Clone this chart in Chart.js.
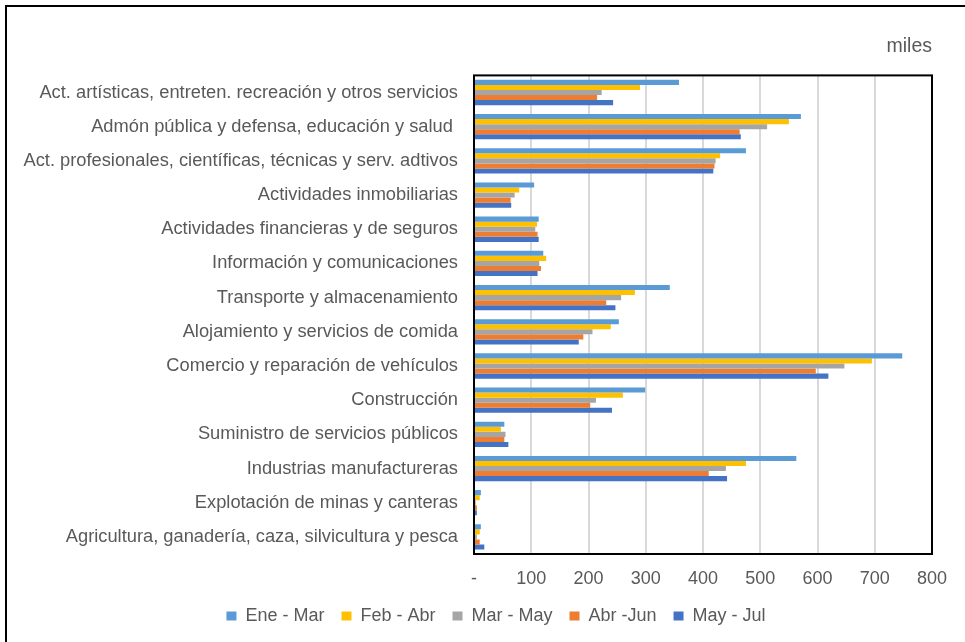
<!DOCTYPE html>
<html>
<head>
<meta charset="utf-8">
<script src="https://cdn.jsdelivr.net/npm/chart.js@4/dist/chart.umd.min.js"></script>
<style>
html,body{margin:0;padding:0;background:#fff;}
#wrap{width:965px;height:642px;position:relative;}
</style>
</head>
<body>
<div id="wrap"><canvas id="c" width="965" height="642"></canvas></div>
<script>
const categories = [
  "Act. artísticas, entreten. recreación y otros servicios",
  "Admón pública y defensa, educación y salud ",
  "Act. profesionales, científicas, técnicas y serv. adtivos",
  "Actividades inmobiliarias",
  "Actividades financieras y de seguros",
  "Información y comunicaciones",
  "Transporte y almacenamiento",
  "Alojamiento y servicios de comida",
  "Comercio y reparación de vehículos",
  "Construcción",
  "Suministro de servicios públicos",
  "Industrias manufactureras",
  "Explotación de minas y canteras",
  "Agricultura, ganadería, caza, silvicultura y pesca"
];
const seriesNames = ["Ene - Mar", "Feb - Abr", "Mar - May", "Abr -Jun", "May - Jul"];
const eneMar = [358, 571, 475, 105, 113, 121, 342, 253, 748, 299, 53, 563, 12, 12];
const febAbr = [290, 550, 430, 79, 110, 126, 281, 239, 695, 260, 47, 475, 10, 10];
const marMay = [223, 512, 422, 71, 107, 114, 257, 207, 647, 213, 55, 440, 3, 5];
const abrJun = [215, 464, 420, 64, 111, 117, 231, 191, 597, 203, 53, 410, 5, 10];
const mayJul = [243, 466, 418, 65, 113, 111, 247, 183, 619, 241, 60, 442, 5, 18];
const unitLabel = "miles";
const xMax = 800;
const xStep = 100;

const colors = ["#5B9BD5", "#FFC000", "#A5A5A5", "#ED7D31", "#4472C4"];
const values = [eneMar, febAbr, marMay, abrJun, mayJul];
const FONT = "'Liberation Sans', Arial, sans-serif";
const TXT = "#595959";

const framePlugin = {
  id: 'frame',
  afterLayout(chart) {
    const lg = chart.legend;
    if (lg) {
      lg.left += 30; lg.right += 30;
    }
  },
  beforeDraw(chart) {
    const ctx = chart.ctx;
    ctx.save();
    ctx.fillStyle = '#fff';
    ctx.fillRect(0, 0, chart.width, chart.height);
    ctx.strokeStyle = '#000';
    ctx.lineWidth = 2;
    ctx.strokeRect(6, 6, 1000, 1000);
    ctx.restore();
  },
  afterDraw(chart) {
    const a = chart.chartArea;
    const ctx = chart.ctx;
    ctx.save();
    ctx.strokeStyle = '#000';
    ctx.lineWidth = 2;
    ctx.strokeRect(a.left, a.top, a.right - a.left, a.bottom - a.top);
    ctx.restore();
  }
};

new Chart(document.getElementById('c'), {
  type: 'bar',
  data: {
    labels: categories,
    datasets: seriesNames.map((n, i) => ({
      label: n,
      data: values[i],
      backgroundColor: colors[i],
      borderWidth: 0,
      categoryPercentage: 0.74,
      barPercentage: 1.0
    }))
  },
  options: {
    indexAxis: 'y',
    responsive: false,
    animation: false,
    devicePixelRatio: 1,
    layout: { padding: { left: 0, right: 33, top: 0, bottom: 7 } },
    plugins: {
      title: {
        display: true,
        text: unitLabel,
        align: 'end',
        color: TXT,
        font: { family: FONT, size: 19.5, weight: 'normal' },
        padding: { top: 35, bottom: 17 }
      },
      legend: {
        position: 'bottom',
        labels: {
          boxWidth: 10,
          boxHeight: 9,
          color: TXT,
          padding: 17,
          font: { family: FONT, size: 18 }
        }
      },
      tooltip: { enabled: false }
    },
    scales: {
      x: {
        min: 0,
        max: xMax,
        ticks: {
          stepSize: xStep,
          color: TXT,
          padding: 14,
          font: { family: FONT, size: 18 },
          callback: v => v === 0 ? '-' : v
        },
        grid: { color: '#d9d9d9', lineWidth: 2, drawTicks: false },
        border: { display: false },
        afterFit(s) { s.height = 36; }
      },
      y: {
        ticks: {
          color: TXT,
          padding: 16,
          font: { family: FONT, size: 18.3 },
          autoSkip: false
        },
        grid: { display: false, drawTicks: false },
        border: { display: false },
        afterFit(s) { s.width = 474; }
      }
    }
  },
  plugins: [framePlugin]
});
</script>
</body>
</html>
